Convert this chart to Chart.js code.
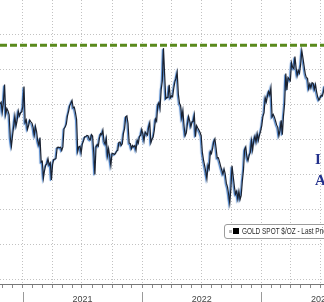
<!DOCTYPE html>
<html>
<head>
<meta charset="utf-8">
<script src="https://cdn.jsdelivr.net/npm/chart.js@4.4.0/dist/chart.umd.min.js"></script>
<style>
  html, body { margin: 0; padding: 0; background: #fff; overflow: hidden; }
  #wrap { position: relative; width: 324px; height: 302px; }
  .legend {
    position: absolute; left: 224px; top: 224px; width: 130px; height: 13px;
    border: 1px solid #9c9c9c; border-radius: 3px; background: #fff;
    font: 8.4px "Liberation Sans", Arial, sans-serif; color: #2a2a2a;
    line-height: 13px; white-space: nowrap;
  }
  .legend .s1 { display: inline-block; width: 3px; height: 3px; background: #bbb; margin: 0 1px 1px 4px; vertical-align: middle; }
  .legend .s2 { display: inline-block; width: 6px; height: 6px; background: #000; margin: 0 3px 1px 0; vertical-align: middle; }
  .legend .t { display: inline-block; transform: scaleX(0.77); transform-origin: left center; }
  .note {
    position: absolute; left: 315px; font: bold 15px "Liberation Serif", "DejaVu Serif", serif;
    color: #23318c; white-space: nowrap;
  }
</style>
</head>
<body>
<div id="wrap">
  <canvas id="myChart" width="324" height="302"></canvas>
  <div class="legend"><span class="s1"></span><span class="s2"></span><span class="t">GOLD SPOT $/OZ - Last Price</span></div>
  <div class="note" style="top:151px">I</div>
  <div class="note" style="top:172px">A</div>
</div>
<script>
// gold spot, two readings a week starting 23 Oct 2020
const startDay = -70;   // days from 1 Jan 2021
const stepDays = 3.5;
const goldSpot = [
  // 2020 Oct-Dec
  1902, 1907, 1879, 1908, 1958, 1872, 1889, 1882, 1871, 1806, 1781, 1812, 1839, 1868, 1838, 1855, 1882, 1868, 1877, 1879,
  // 2021
  1895, 1952, 1849, 1856, 1829, 1840, 1856, 1851, 1847,
  1834, 1813, 1838, 1823, 1796, 1784, 1806, 1736,
  1738, 1690, 1712, 1727, 1731, 1745, 1727, 1733, 1684,
  1728, 1743, 1744, 1746, 1777, 1778, 1777, 1778, 1769,
  1779, 1831, 1836, 1844, 1868, 1881, 1898, 1904,
  1912, 1891, 1893, 1877, 1858, 1766, 1779, 1781, 1762,
  1787, 1796, 1808, 1808, 1812, 1811, 1802, 1799, 1814,
  1810, 1763, 1700, 1779, 1786, 1781, 1804, 1817, 1814,
  1827, 1794, 1787, 1804, 1754, 1774, 1750, 1726,
  1761, 1760, 1757, 1760, 1767, 1769, 1792, 1793, 1783,
  1788, 1818, 1832, 1865, 1868, 1846, 1790, 1788, 1774,
  1783, 1779, 1783, 1770, 1798, 1790, 1809, 1812, 1829,
  // 2022
  1815, 1797, 1822, 1817, 1813, 1835, 1848, 1791,
  1801, 1807, 1827, 1859, 1853, 1898, 1906, 1889,
  1943, 1968, 2062, 1988, 1917, 1921, 1921, 1957, 1919,
  1925, 1923, 1947, 1966, 1976, 1993, 1931, 1904, 1897,
  1862, 1883, 1839, 1811, 1819, 1846, 1866, 1853, 1837,
  1851, 1852, 1871, 1808, 1840, 1833, 1827, 1820,
  1811, 1764, 1742, 1725, 1708, 1688, 1727, 1717, 1766,
  1760, 1775, 1794, 1802, 1776, 1747, 1748, 1737, 1724,
  1712, 1701, 1716, 1702, 1675, 1664, 1643, 1618, 1661,
  1725, 1695, 1666, 1644, 1652, 1630, 1652, 1628,
  1640, 1681, 1713, 1771, 1779, 1750, 1740, 1755, 1763,
  1797, 1770, 1797, 1810, 1793, 1817, 1798, 1813, 1824,
  // 2023
  1840, 1866, 1877, 1920, 1908, 1926, 1938, 1928, 1948,
  1865, 1872, 1865, 1854, 1842, 1835, 1811, 1827,
  1855, 1814, 1868, 1904, 1989, 1942, 1978, 1973, 1969,
  2020, 2007, 2003, 2038, 2006, 1983, 1998, 1990,
  2016, 2055, 2034, 2011, 1989, 1977, 1976, 1946, 1959,
  1948, 1963, 1961, 1944, 1958, 1936, 1921, 1913, 1919,
  1927, 1925, 1938, 1955
];
const athLevel = 2070;
const yTicks = [1400, 1500, 1600, 1700, 1800, 1900, 2000, 2100];
const years = [2021, 2022, 2023];

const xMin = -70, xMax = 922;
const dayOf = (y, m) => (Date.UTC(y, m, 1) - Date.UTC(2021, 0, 1)) / 864e5;

// blue under-stroke on the price line
const lineShadow = {
  id: 'lineShadow',
  beforeDatasetDraw(chart, args) {
    if (args.index !== 0) return;
    const c = chart.ctx;
    c.save();
    c.shadowColor = 'rgba(58,118,196,1)';
    c.shadowOffsetX = -1;
    c.shadowOffsetY = 1;
    c.shadowBlur = 1;
  },
  afterDatasetDraw(chart, args) {
    if (args.index === 0) chart.ctx.restore();
  }
};

// year separators and labels under the month ticks
const yearAxis = {
  id: 'yearAxis',
  afterDraw(chart) {
    const x = chart.scales.x;
    const c = chart.ctx;
    c.save();
    c.strokeStyle = '#9a9a9a';
    c.lineWidth = 1;
    c.fillStyle = '#444';
    c.font = '9px "Liberation Sans", Arial, sans-serif';
    c.textAlign = 'center';
    c.textBaseline = 'alphabetic';
    years.forEach(y => {
      const p0 = x.getPixelForValue(dayOf(y, 0));
      const p1 = x.getPixelForValue(dayOf(y + 1, 0));
      c.beginPath();
      c.moveTo(Math.round(p0) + 0.5, 292);
      c.lineTo(Math.round(p0) + 0.5, 302);
      c.stroke();
      c.fillText(String(y), (p0 + p1) / 2, 302);
    });
    c.restore();
  }
};

const ctx = document.getElementById('myChart');

new Chart(ctx, {
  type: 'line',
  data: {
    datasets: [{
      label: 'GOLD SPOT $/OZ - Last Price',
      data: goldSpot.map((v, i) => ({ x: startDay + i * stepDays, y: v })),
      borderColor: '#1b2230',
      borderWidth: 1.2,
      pointRadius: 0,
      tension: 0,
      order: 2
    }, {
      label: 'high',
      data: [{ x: xMin, y: athLevel }, { x: xMax, y: athLevel }],
      borderColor: '#5a8a1c',
      borderWidth: 3,
      borderDash: [7, 3],
      pointRadius: 0,
      order: 1
    }]
  },
  options: {
    responsive: false,
    animation: false,
    devicePixelRatio: 1,
    layout: { padding: 0 },
    plugins: { legend: { display: false }, tooltip: { enabled: false } },
    scales: {
      x: {
        type: 'linear',
        min: xMin,
        max: xMax,
        afterBuildTicks(scale) {
          const t = [];
          for (let y = 2020; y <= 2023; y++) {
            for (let m = 0; m < 12; m++) {
              const v = dayOf(y, m);
              if (v >= xMin && v <= xMax) t.push({ value: v, month: m });
            }
          }
          scale.ticks = t;
        },
        afterFit(scale) { scale.height = 18; },
        ticks: { display: false },
        grid: {
          color: c => (c.tick && c.tick.month % 3 === 0) ? '#c2c2c2' : 'rgba(0,0,0,0)',
          tickColor: '#8a8a8a',
          tickLength: 4,
          lineWidth: 1
        },
        border: { display: true, color: '#777', width: 1, dash: [1, 2] }
      },
      y: {
        min: 1386,
        max: 2200,
        afterBuildTicks(scale) { scale.ticks = yTicks.map(v => ({ value: v })); },
        afterFit(scale) { scale.width = 0; },
        ticks: { display: false },
        grid: { color: '#c2c2c2', drawTicks: false, lineWidth: 1 },
        border: { display: false, dash: [1, 2] }
      }
    }
  },
  plugins: [lineShadow, yearAxis]
});
</script>
</body>
</html>
